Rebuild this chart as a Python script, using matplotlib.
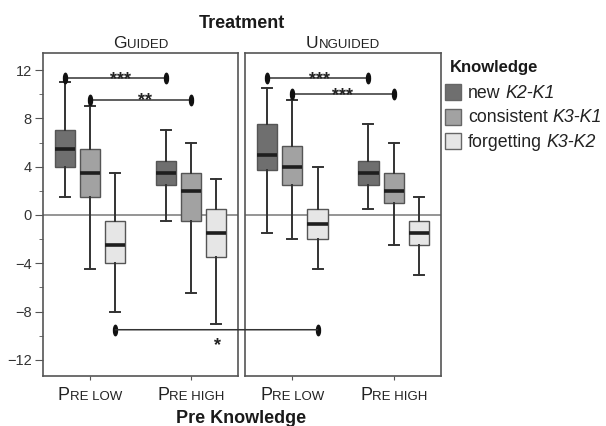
import matplotlib
matplotlib.use('Agg')
import matplotlib.pyplot as plt
from matplotlib.patches import Rectangle, ConnectionPatch
from matplotlib.path import Path
from matplotlib.markers import MarkerStyle
from matplotlib.transforms import Affine2D, IdentityTransform

plt.rcParams['font.family'] = ['Liberation Sans', 'DejaVu Sans']
plt.rcParams['axes.unicode_minus'] = True

# Treatment groups, pre-knowledge levels and knowledge categories
treatments = ["Guided", "Unguided"]
pre_levels = ["Pre low", "Pre high"]
knowledge = ["new", "consistent", "forgetting"]
knowledge_terms = ["K2-K1", "K3-K1", "K3-K2"]
colors = ["#6f6f6f", "#a2a2a2", "#e6e6e6"]

# five-number summaries per knowledge category: (whisker low, q1, median, q3, whisker high)
guided_low = [(1.5, 4.0, 5.5, 7.0, 11.0), (-4.5, 1.5, 3.5, 5.5, 9.0), (-8.0, -4.0, -2.5, -0.5, 3.5)]
guided_high = [(-0.5, 2.5, 3.5, 4.5, 7.0), (-6.5, -0.5, 2.0, 3.5, 6.0), (-9.0, -3.5, -1.5, 0.5, 3.0)]
unguided_low = [(-1.5, 3.75, 5.0, 7.5, 10.5), (-2.0, 2.5, 4.0, 5.75, 9.5), (-4.5, -2.0, -0.75, 0.5, 4.0)]
unguided_high = [(0.5, 2.5, 3.5, 4.5, 7.5), (-2.5, 1.0, 2.0, 3.5, 6.0), (-5.0, -2.5, -1.5, -0.5, 1.5)]

# significance brackets inside a panel: (panel, x from, x to, y, label)
brackets = [
    (0, -0.25, 0.75, 11.3, "***"),
    (0, 0.0, 1.0, 9.5, "**"),
    (1, -0.25, 0.75, 11.35, "***"),
    (1, 0.0, 1.0, 10.0, "***"),
]
# star label positions (panel, x, baseline y)
star_pos = [(0, 0.30, 10.87), (0, 0.54, 9.06), (1, 0.267, 10.84), (1, 0.495, 9.52)]
# bracket across panels: guided pre low forgetting vs unguided pre low forgetting
cross_y = -9.5

W, H = 606, 426
fig = plt.figure(figsize=(W / 100, H / 100), dpi=100)
ax_g = fig.add_axes([43 / W, 1 - 376 / H, 195 / W, 323 / H])
ax_u = fig.add_axes([245 / W, 1 - 376 / H, 196 / W, 323 / H])
axes = [ax_g, ax_u]

offsets = [-0.25, 0.0, 0.25]
for ax, (low, high) in zip(axes, [(guided_low, guided_high), (unguided_low, unguided_high)]):
    ax.axhline(0, color='#8c8c8c', lw=1.3, zorder=0.5)
    for k in range(3):
        stats = []
        for summary in (low[k], high[k]):
            lo, q1, med, q3, hi = summary
            stats.append(dict(whislo=lo, q1=q1, med=med, q3=q3, whishi=hi, fliers=[]))
        ax.bxp(stats, positions=[0 + offsets[k], 1 + offsets[k]], widths=0.2,
               patch_artist=True, showfliers=False, manage_ticks=False,
               boxprops=dict(facecolor=colors[k], edgecolor='#555555', lw=1.0),
               medianprops=dict(color='#1e1e1e', lw=2.6),
               whiskerprops=dict(color='#333333', lw=1.4),
               capprops=dict(color='#333333', lw=1.4))
    ax.set_xlim(-0.465, 1.465)
    ax.set_ylim(-13.33, 13.41)
    ax.set_xticks([0, 1])
    ax.set_xticklabels([])
    ax.tick_params(axis='x', length=3, color='#555555')
    for s in ax.spines.values():
        s.set_color('#555555')
        s.set_linewidth(1.2)

ax_g.set_yticks([12, 8, 4, 0, -4, -8, -12])
ax_g.set_yticks([10, 6, 2, -2, -6, -10], minor=True)
ax_g.tick_params(axis='y', which='major', length=6, pad=2, labelsize=10.5,
                 color='#555555', labelcolor='#333333')
ax_g.tick_params(axis='y', which='minor', length=3, color='#555555')
ax_u.tick_params(axis='y', left=False, labelleft=False)

# vertical ellipse used at bracket ends
ell = MarkerStyle(Path.unit_circle().transformed(Affine2D().scale(0.38, 1.0)))

for p, x1, x2, y, lab in brackets:
    ax = axes[p]
    ax.plot([x1, x2], [y, y], color='#333333', lw=1.1, zorder=3)
    ax.plot([x1, x2], [y, y], ls='none', marker=ell, ms=7.5, color='#111111', zorder=4)
for (p, x, y), (_, _, _, _, lab) in zip(star_pos, brackets):
    axes[p].text(x, y, lab, ha='center', va='baseline', fontsize=13,
                 fontweight='bold', color='#222222')

con = ConnectionPatch(xyA=(0.25, cross_y), coordsA=ax_g.transData,
                      xyB=(0.25, cross_y), coordsB=ax_u.transData,
                      color='#333333', lw=1.1, zorder=3)
fig.add_artist(con)
ax_g.plot([0.25], [cross_y], ls='none', marker=ell, ms=7.5, color='#111111', zorder=4)
ax_u.plot([0.25], [cross_y], ls='none', marker=ell, ms=7.5, color='#111111', zorder=4)
ax_g.text(1.267, -11.2, "*", ha='center', va='baseline', fontsize=13,
          fontweight='bold', color='#222222')

renderer = fig.canvas.get_renderer()


def small_caps(xc, yb, word, big=13, small=9.5, color='#222222'):
    # first letter full size, the rest as small capitals, centred on xc
    t1 = fig.text(0, yb, word[0], fontsize=big, va='baseline', ha='left',
                  transform=IdentityTransform(), color=color)
    t2 = fig.text(0, yb, word[1:].upper(), fontsize=small, va='baseline', ha='left',
                  transform=IdentityTransform(), color=color)
    w1 = t1.get_window_extent(renderer).width
    w2 = t2.get_window_extent(renderer).width
    x0 = xc - (w1 + w2) / 2
    t1.set_x(x0)
    t2.set_x(x0 + w1)


for ax, name in zip(axes, treatments):
    x0, x1 = ax.transAxes.transform([(0, 0), (1, 0)])[:, 0]
    small_caps((x0 + x1) / 2, H - 48, name, big=12.5)
    for i, lev in enumerate(pre_levels):
        xc = ax.transData.transform((i, 0))[0]
        small_caps(xc, H - 400, lev, big=13)

fig.text(241.5 / W, 1 - 28 / H, "Treatment", ha='center', va='baseline',
         fontsize=13, fontweight='bold', color='#1a1a1a')
fig.text(241.5 / W, 1 - 423 / H, "Pre Knowledge", ha='center', va='baseline',
         fontsize=13, fontweight='bold', color='#1a1a1a')

# legend
fig.text(450, H - 72, "Knowledge", ha='left', va='baseline', fontsize=12,
         fontweight='bold', color='#1a1a1a', transform=IdentityTransform())
base = [98, 122.5, 147]
for i in range(3):
    fig.add_artist(Rectangle((445, H - base[i] - 2), 16, 16, transform=IdentityTransform(),
                             facecolor=colors[i], edgecolor='#666666', lw=1.0))
    t = fig.text(468, H - base[i], knowledge[i], ha='left', va='baseline', fontsize=12.8,
                 color='#222222', transform=IdentityTransform())
    w = t.get_window_extent(renderer).width
    fig.text(468 + w + 4.8, H - base[i], knowledge_terms[i], ha='left', va='baseline',
             fontsize=12.8, style='italic', color='#222222', transform=IdentityTransform())

fig.savefig('out.png', dpi=100)
